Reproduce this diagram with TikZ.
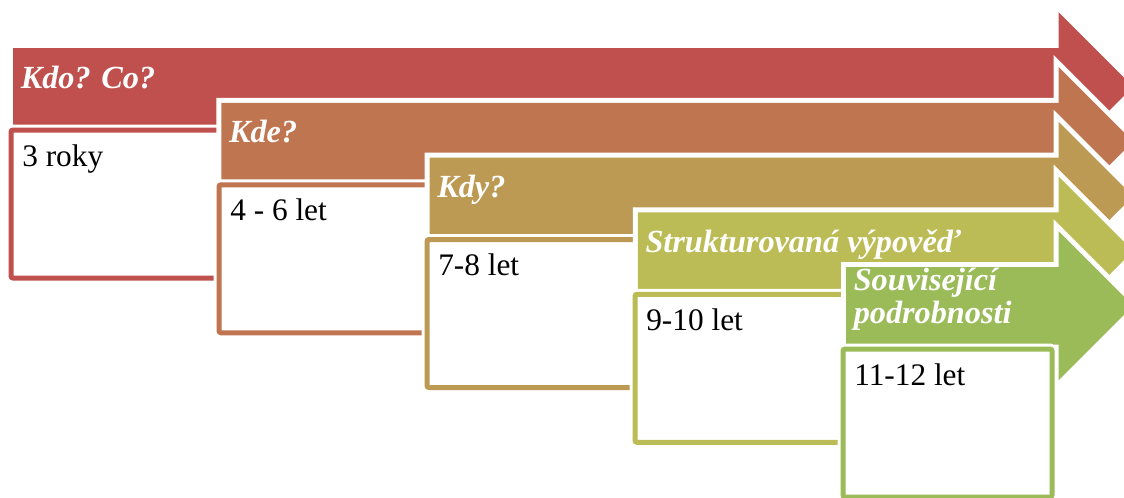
\documentclass[tikz,border=0pt]{standalone}
\usepackage{fontspec}
\setmainfont{Liberation Serif}
\definecolor{c1}{RGB}{192,80,77}
\definecolor{c2}{RGB}{191,117,80}
\definecolor{c3}{RGB}{189,154,83}
\definecolor{c4}{RGB}{188,188,86}
\definecolor{c5}{RGB}{155,187,89}
\begin{document}
\begin{tikzpicture}[x=0.75pt,y=-0.75pt,
  arrowbody/.style={preaction={draw=white, line width=7.5pt, line join=miter}},
  boxstyle/.style={preaction={draw=white, line width=8pt}, draw=#1, line width=3.75pt, fill=white, rounded corners=1.5pt},
  labeltext/.style={font=\fontsize{24.2}{24.75}\selectfont\bfseries\itshape, text=white, inner sep=0pt, anchor=base west, align=left},
  boxtext/.style={font=\fontsize{23.5}{28}\selectfont, text=black, inner sep=0pt, anchor=base west}]
\useasboundingbox (0,0) rectangle (1124,497);
\clip (0,0) rectangle (1124,497);
\fill[white] (0,0) rectangle (1124,497);
\foreach \i/\c/\lab/\txt/\dy in {0/c1/{Kdo? Co?}/{3 roky}/40, 1/c2/{Kde?}/{4 - 6 let}/40, 2/c3/{Kdy?}/{7-8 let}/40, 3/c4/{Strukturovaná výpověď}/{9-10 let}/40, 4/c5/{Související\\podrobnosti}/{11-12 let}/56} {
  \pgfmathsetmacro\L{13+208.25*\i}
  \pgfmathsetmacro\T{48+54.75*\i}
  \pgfmathsetmacro\B{\T+77.5}
  \pgfmathsetmacro\C{\T+38.75}
  \pgfmathsetmacro\BL{9+208*\i}
  \pgfmathsetmacro\BT{128+54.75*\i}
  \path[arrowbody, fill=\c] (\L,\T) -- (1058.5,\T) -- (1058.5,\C-74.5) -- (1133,\C) -- (1058.5,\C+74.5) -- (1058.5,\B) -- (\L,\B) -- cycle;
  \node[labeltext] (label\i) at (\L+7.5,\T+\dy) {\lab};
  \draw[boxstyle=\c] (\BL+2,\BT+2) rectangle (\BL+211,\BT+150);
  \node[boxtext] (age\i) at (\BL+13,\BT+38) {\txt};
}
\end{tikzpicture}
\end{document}
